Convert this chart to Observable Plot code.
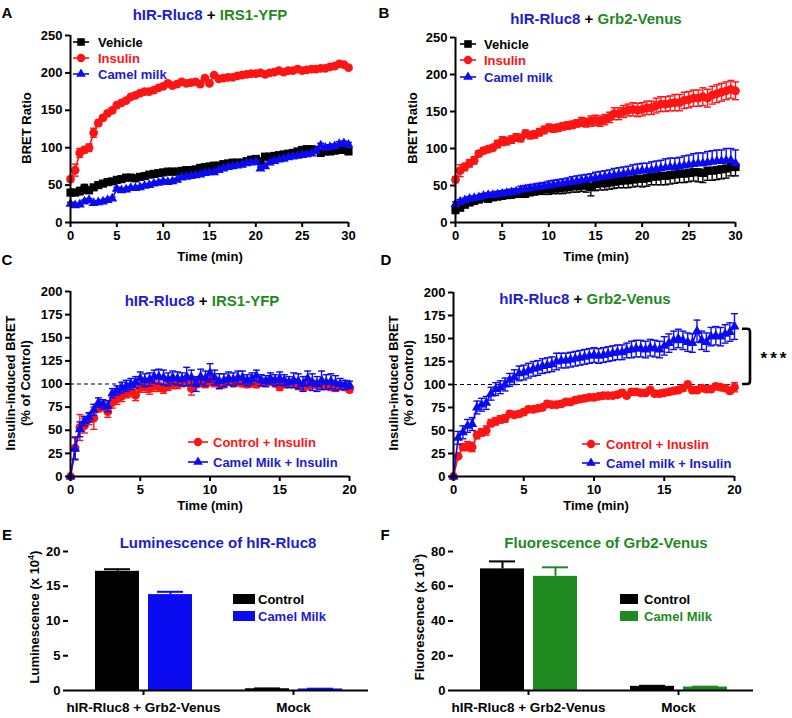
<!DOCTYPE html>
<html><head><meta charset="utf-8">
<script src="https://cdn.jsdelivr.net/npm/d3@7"></script>
<script src="https://cdn.jsdelivr.net/npm/@observablehq/plot@0.6"></script>
<style>
body{margin:0;background:#fff;}
#root{position:relative;width:792px;height:718px;overflow:hidden;background:#fff;font-family:'Liberation Sans',Arial,Helvetica,sans-serif;font-weight:bold;color:#000;}
.abs{position:absolute;white-space:nowrap;line-height:1;}
.panel{position:absolute;}
</style></head><body><div id="root"></div>
<script>
// ---------------- DATA ----------------
const timeAB = [0,0.5,1,1.5,2,2.5,3,3.5,4,4.5,5,5.5,6,6.5,7,7.5,8,8.5,9,9.5,10,10.5,11,11.5,12,12.5,13,13.5,14,14.5,15,15.5,16,16.5,17,17.5,18,18.5,19,19.5,20,20.5,21,21.5,22,22.5,23,23.5,24,24.5,25,25.5,26,26.5,27,27.5,28,28.5,29,29.5,30];
const timeCD = [0,0.33,0.67,1,1.33,1.67,2,2.33,2.67,3,3.33,3.67,4,4.33,4.67,5,5.33,5.67,6,6.33,6.67,7,7.33,7.67,8,8.33,8.67,9,9.33,9.67,10,10.33,10.67,11,11.33,11.67,12,12.33,12.67,13,13.33,13.67,14,14.33,14.67,15,15.33,15.67,16,16.33,16.67,17,17.33,17.67,18,18.33,18.67,19,19.33,19.67,20];

// Panel A: hIR-Rluc8 + IRS1-YFP (BRET ratio)
const aInsulin = [58,70,93,97,100,120,133,140,146,150, 157,160,163,168,170,173,175,175,177,180, 182,186,183,185,188,186,187,188,185,193, 186,197,192,193,194,194,196,197,198,199, 199,200,198,200,201,203,201,203,203,205, 203,204,205,205,206,206,208,209,212,211, 207];
const aInsulinErr = [3,8,6,4,5,6,4,3,3,3, 2,2,2,2,2,2,2,2,2,2, 2,2,2,2,2,2,2,2,2,2, 2,2,2,2,2,2,2,2,2,2, 2,2,2,2,2,2,2,2,2,2, 2,2,2,2,2,2,2,3,3,2, 2];
const aVehicle = [40,40,42,45,43,47,50,52,54,55, 57,58,60,60,59,61,62,64,65,66, 67,68,68,68,69,70,70,71,73,74, 75,76,76,78,79,80,80,80,82,84, 85,82,88,88,89,90,91,92,93,95, 97,98,98,97,93,95,95,96,97,97, 95];
const aVehicleErr = [3,3,5,6,3,2,2,2,2,2, 2,2,2,2,2,2,2,2,2,2, 2,2,2,2,2,2,2,2,2,2, 2,2,2,2,2,2,2,2,2,2, 2,2,2,2,2,2,2,2,2,2, 2,2,2,2,3,3,3,3,3,3, 3];
const aCamel = [25,23,24,28,30,26,27,28,30,32, 45,43,44,46,46,47,49,50,52,53, 55,54,55,57,60,61,62,63,64,66, 67,67,70,72,74,75,76,77,79,80, 81,72,75,80,82,84,85,87,88,89, 90,91,92,95,103,100,101,102,105,106, 104];
const aCamelErr = [2,2,2,2,2,2,2,2,2,2, 2,2,2,2,2,2,2,2,2,2, 2,2,2,2,2,2,2,2,2,2, 2,2,2,2,2,2,2,2,2,2, 2,2,2,2,2,2,2,2,2,2, 2,2,2,2,3,3,3,3,3,3, 3];

// Panel B: hIR-Rluc8 + Grb2-Venus (BRET ratio)
const bInsulin = [58,70,75,80,84,93,97,99,101,106, 110,110,112,115,114,120,118,119,122,125, 128,127,128,130,131,132,134,136,135,137, 138,137,139,142,147,147,150,152,153,152, 153,155,155,158,160,160,161,162,162,165, 166,168,168,170,168,172,174,176,178,180, 178];
const bInsulinErr = [4,8,5,5,5,4,4,4,4,5, 6,5,5,5,5,5,5,5,5,5, 5,5,5,5,5,5,5,6,6,7, 7,7,7,7,8,8,8,8,9,9, 9,9,9,10,10,10,10,11,11,11, 11,11,11,12,12,12,12,12,12,12, 12];
const bVehicle = [17,20,24,27,29,31,33,32,34,35, 36,37,38,39,40,40,42,43,44,45, 45,46,46,47,48,49,49,50,50,48, 52,53,53,54,55,56,57,57,58,59, 59,60,62,62,63,63,64,65,66,66, 67,68,68,67,70,70,71,72,73,75, 75];
const bVehicleErr = [5,4,3,3,3,3,3,4,4,4, 4,4,5,5,6,6,6,6,6,7, 7,7,7,8,8,8,8,8,9,12, 9,9,9,9,9,9,10,10,10,10, 11,11,11,11,12,12,12,12,12,12, 12,12,13,13,13,13,13,13,13,12, 12];
const bCamel = [25,28,30,32,33,34,36,37,37,38, 39,40,41,42,44,45,46,47,48,49, 50,51,52,53,54,55,56,57,58,59, 60,61,62,63,64,65,66,67,68,69, 70,70,71,72,73,74,75,75,76,77, 78,79,80,80,81,82,83,83,84,84, 80];
const bCamelErr = [3,3,3,3,3,3,3,3,4,4, 4,4,4,4,5,5,5,5,5,5, 6,6,6,6,6,7,7,7,7,7, 8,8,8,8,9,9,9,9,10,10, 10,10,11,11,11,12,12,12,12,13, 13,14,14,14,15,15,15,15,16,16, 18];

// Panel C: hIR-Rluc8 + IRS1-YFP (% of control)
const cControl = [0,31,53, 55,62,63, 74,76,70, 80,84,87, 90,92,88, 96,97,95, 98,97,95, 98,100,100, 102,103,95, 101,102,101, 103,102,100, 100,103,101, 102,101,100, 101,100,102, 102,103,101, 97,100,101, 101,98,97, 98,100,99, 98,99,97, 96,98,97, 94];
const cControlErr = [0,12,14, 8,6,12, 4,5,6, 6,6,6, 5,6,6, 5,6,6, 6,5,5, 5,5,5, 5,5,7, 5,5,5, 5,5,5, 4,4,4, 4,4,4, 4,4,4, 4,4,4, 4,4,4, 4,4,4, 4,4,4, 4,4,4, 4,4,4, 3];
const cCamel = [0,30,51, 60,64,72, 80,78,76, 90,93,96, 98,100,102, 106,104,105, 108,108,107, 105,107,106, 105,108,107, 100,108,106, 112,107,103, 104,106,105, 107,107,104, 106,109,104, 103,106,104, 106,104,102, 104,103,100, 106,102,100, 104,102,103, 101,100,99, 99];
const cCamelErr = [0,12,8, 5,5,6, 5,5,6, 5,5,6, 6,6,6, 7,7,7, 7,8,8, 7,7,7, 7,10,8, 8,8,8, 10,8,8, 7,7,7, 7,7,6, 6,6,6, 6,6,6, 7,6,6, 8,8,8, 8,9,8, 10,8,8, 8,6,5, 4];

// Panel D: hIR-Rluc8 + Grb2-Venus (% of control)
const dControl = [0,22,32, 33,32,45, 48,50,58, 60,62,63, 68,67,68, 70,73,73, 74,75,79, 78,78,79, 81,81,83, 84,85,86, 86,87,88, 88,88,89, 91,88,92, 92,91,91, 94,90,90, 91,92,93, 94,96,100, 94,94,96, 95,95,98, 97,96,93, 97];
const dControlErr = [0,2,3, 5,5,4, 4,5,4, 4,4,4, 3,3,3, 3,3,3, 3,3,3, 3,3,3, 3,3,3, 3,3,3, 3,3,3, 3,3,3, 3,3,3, 3,3,3, 3,3,3, 3,3,3, 3,3,3, 3,3,3, 3,3,3, 3,3,3, 5];
const dCamel = [0,42,48, 55,57,75, 78,80,90, 95,97,100, 105,108,112, 113,115,117, 118,120,121, 122,125,126, 126,127,128, 129,130,131, 132,131,132, 133,134,135, 135,137,138, 139,139,138, 140,139,138, 142,145,148, 150,148,146, 145,158,148, 146,152,153, 152,155,157, 163];
const dCamelErr = [0,7,7, 7,7,7, 7,7,7, 7,7,7, 7,8,8, 8,8,8, 8,8,8, 8,9,8, 8,8,8, 8,8,8, 8,8,8, 8,8,8, 8,8,9, 9,9,9, 9,9,9, 10,10,10, 10,10,10, 10,12,10, 10,10,10, 10,10,10, 14];
const sigSpan = [100, 160];   // bracket between the two curves in D (y values)

// Panels E & F: bar charts
const barGroups = ["hIR-Rluc8 + Grb2-Venus", "Mock"];
const barTreatments = ["Control", "Camel Milk"];
const lumControl = [17.15, 0.25], lumControlErr = [0.3, 0.05];
const lumCamel = [13.8, 0.22], lumCamelErr = [0.4, 0.04];
const fluControl = [70.0, 2.4], fluControlErr = [4.3, 0.3];
const fluCamel = [65.7, 2.0], fluCamelErr = [5.2, 0.2];

// ---------------- STYLE ----------------
const FONT = "'Liberation Sans', Arial, Helvetica, sans-serif";
const RED = "#ff1414", BLUE = "#0b0bf2", BLACK = "#000000", GREEN = "#1f8a1f";
const TBLUE = "#1c1cd0", TGREEN = "#1f8a1f";
const root = document.getElementById("root");
const capSymbol = {draw(ctx, size) { const w = Math.sqrt(size / Math.PI); ctx.moveTo(-w, 0); ctx.lineTo(w, 0); }};
const plotStyle = {fontFamily: FONT, fontWeight: "bold", fontSize: "13px", color: "#000", background: "transparent", overflow: "visible"};
const symR = {square: 4.6, circle: 4.4, triangle: 3.7};

function place(el, left, top) {
  const d = document.createElement("div"); d.className = "panel";
  d.style.left = left + "px"; d.style.top = top + "px"; d.appendChild(el); root.appendChild(d); return d;
}
function txt(html, x, y, o = {}) {
  const d = document.createElement("div"); d.className = "abs"; d.innerHTML = html;
  d.style.fontSize = (o.size || 13) + "px"; d.style.color = o.color || "#000";
  d.style.left = x + "px"; d.style.top = y + "px";
  if (o.lh) { d.style.lineHeight = o.lh; d.style.textAlign = "center"; }
  if (o.ls) d.style.letterSpacing = o.ls;
  const tx = o.anchor === "start" ? "0" : "-50%";
  d.style.transform = `translate(${tx},-50%)` + (o.rotate ? ` rotate(${o.rotate}deg)` : "");
  root.appendChild(d); return d;
}
function rowsOf(time, vals, errs, dir) {
  return time.map((t, i) => ({t, v: vals[i], e: errs[i],
    lo: dir === "up" ? vals[i] : vals[i] - errs[i],
    hi: dir === "down" ? vals[i] : vals[i] + errs[i]}));
}
function seriesMarks(s) {
  const rows = rowsOf(s.time, s.values, s.errors, s.dir);
  const we = rows.filter(d => d.e > 0);
  const m = [Plot.ruleX(we, {x: "t", y1: "lo", y2: "hi", stroke: s.color, strokeWidth: 1.4})];
  if (s.dir !== "down") m.push(Plot.dot(we, {x: "t", y: "hi", symbol: capSymbol, r: 3.5, stroke: s.color, strokeWidth: 1.4, fill: "none"}));
  if (s.dir !== "up") m.push(Plot.dot(we, {x: "t", y: "lo", symbol: capSymbol, r: 3.5, stroke: s.color, strokeWidth: 1.4, fill: "none"}));
  m.push(Plot.line(rows, {x: "t", y: "v", stroke: s.color, strokeWidth: 1.6}));
  m.push(Plot.dot(rows, {x: "t", y: "v", symbol: s.symbol, r: symR[s.symbol], fill: s.color, stroke: "none"}));
  return m;
}
function lineChart(c) {
  return Plot.plot({
    width: 396, height: 250,
    marginLeft: c.m[0], marginRight: c.m[1], marginTop: c.m[2], marginBottom: c.m[3],
    x: {domain: c.xDomain}, y: {domain: c.yDomain},
    style: plotStyle,
    marks: [
      c.ref != null ? Plot.ruleY([c.ref], {stroke: "#000", strokeWidth: 1.2, strokeDasharray: "4,3"}) : null,
      ...c.series.flatMap(seriesMarks),
      Plot.ruleX([c.xDomain[0]], {stroke: "#000", strokeWidth: 2}),
      Plot.ruleY([c.yDomain[0]], {stroke: "#000", strokeWidth: 2}),
      Plot.axisX({ticks: c.xTicks, tickSize: 5, tickPadding: 3, strokeWidth: 2, label: null, fontSize: 13}),
      Plot.axisY({ticks: c.yTicks, tickSize: 5, tickPadding: 3, strokeWidth: 2, label: null, fontSize: 13})
    ]
  });
}
function barChart(c) {
  const rows = [];
  barGroups.forEach((g, gi) => barTreatments.forEach((tr, ti) =>
    rows.push({group: g, treat: tr, v: c.values[ti][gi], e: c.errors[ti][gi]})));
  return Plot.plot({
    width: 396, height: 218,
    marginLeft: c.m[0], marginRight: c.m[1], marginTop: c.m[2], marginBottom: c.m[3],
    fx: {domain: barGroups, padding: 0},
    x: {domain: barTreatments, paddingInner: 0.17, paddingOuter: 0.5, axis: null},
    y: {domain: c.yDomain},
    color: {domain: barTreatments, range: c.colors},
    style: plotStyle,
    marks: [
      Plot.barY(rows, {fx: "group", x: "treat", y: "v", fill: "treat"}),
      Plot.ruleX(rows, {fx: "group", x: "treat", y1: "v", y2: d => d.v + d.e, stroke: "treat", strokeWidth: 2}),
      Plot.tickY(rows, {fx: "group", x: "treat", y: d => d.v + d.e, stroke: "treat", strokeWidth: 2, insetLeft: 9, insetRight: 9}),
      Plot.ruleY([0], {stroke: "#000", strokeWidth: 2}),
      Plot.axisY({ticks: c.yTicks, tickSize: 5, tickPadding: 3, strokeWidth: 2, label: null, line: true, fontSize: 13}),
      Plot.axisFx({anchor: "bottom", tickSize: 5, tickPadding: 7, strokeWidth: 2, label: null, fontSize: 13.5})
    ]
  });
}
function symSVG(sym, color, half) {
  const w = half * 2 + 2, h = 14, cx = w / 2, cy = 7;
  let s;
  if (sym === "square") s = `<rect x="${cx-3.8}" y="${cy-3.8}" width="7.6" height="7.6" fill="${color}"/>`;
  else if (sym === "circle") s = `<circle cx="${cx}" cy="${cy}" r="4.2" fill="${color}"/>`;
  else s = `<path d="M${cx},${cy-5.4}L${cx+4.8},${cy+2.8}L${cx-4.8},${cy+2.8}Z" fill="${color}"/>`;
  return `<svg width="${w}" height="${h}" style="display:block"><line x1="1" x2="${w-1}" y1="${cy}" y2="${cy}" stroke="${color}" stroke-width="1.6"/>${s}</svg>`;
}
function legendItem(cx, y, sym, color, half, textX, label, tcolor, size = 13) {
  txt(symSVG(sym, color, half), cx, y);
  txt(label, textX, y, {anchor: "start", color: tcolor, size});
}
function swatch(x, y, w, color, textX, label, tcolor) {
  txt(`<div style="width:${w}px;height:10px;background:${color}"></div>`, x + w / 2, y);
  txt(label, textX, y, {anchor: "start", color: tcolor});
}

// ---------------- PANELS ----------------
const plotA = lineChart({m: [70, 48, 35, 28], xDomain: [0, 30], yDomain: [0, 250],
  xTicks: [0, 5, 10, 15, 20, 25, 30], yTicks: [0, 50, 100, 150, 200, 250],
  series: [
    {time: timeAB, values: aVehicle, errors: aVehicleErr, color: BLACK, symbol: "square", dir: "both"},
    {time: timeAB, values: aInsulin, errors: aInsulinErr, color: RED, symbol: "circle", dir: "both"},
    {time: timeAB, values: aCamel, errors: aCamelErr, color: BLUE, symbol: "triangle", dir: "both"}]});
place(plotA, 0, 0);

const plotB = lineChart({m: [59, 57, 37, 28], xDomain: [0, 30], yDomain: [0, 250],
  xTicks: [0, 5, 10, 15, 20, 25, 30], yTicks: [0, 50, 100, 150, 200, 250],
  series: [
    {time: timeAB, values: bVehicle, errors: bVehicleErr, color: BLACK, symbol: "square", dir: "down"},
    {time: timeAB, values: bInsulin, errors: bInsulinErr, color: RED, symbol: "circle", dir: "both"},
    {time: timeAB, values: bCamel, errors: bCamelErr, color: BLUE, symbol: "triangle", dir: "up"}]});
place(plotB, 396, 0);

const plotC = lineChart({m: [70, 47, 41, 24], xDomain: [0, 20], yDomain: [0, 200], ref: 100,
  xTicks: [0, 5, 10, 15, 20], yTicks: [0, 25, 50, 75, 100, 125, 150, 175, 200],
  series: [
    {time: timeCD, values: cControl, errors: cControlErr, color: RED, symbol: "circle", dir: "both"},
    {time: timeCD, values: cCamel, errors: cCamelErr, color: BLUE, symbol: "triangle", dir: "both"}]});
place(plotC, 0, 250);

const plotD = lineChart({m: [57, 58, 42, 24], xDomain: [0, 20], yDomain: [0, 200], ref: 100,
  xTicks: [0, 5, 10, 15, 20], yTicks: [0, 25, 50, 75, 100, 125, 150, 175, 200],
  series: [
    {time: timeCD, values: dControl, errors: dControlErr, color: RED, symbol: "circle", dir: "both"},
    {time: timeCD, values: dCamel, errors: dCamelErr, color: BLUE, symbol: "triangle", dir: "both"}]});
place(plotD, 396, 250);

const plotE = barChart({m: [67, 28, 51, 28], yDomain: [0, 20], yTicks: [0, 5, 10, 15, 20],
  values: [lumControl, lumCamel], errors: [lumControlErr, lumCamelErr], colors: [BLACK, BLUE]});
place(plotE, 0, 500);

const plotF = barChart({m: [56, 39, 51, 28], yDomain: [0, 80], yTicks: [0, 20, 40, 60, 80],
  values: [fluControl, fluCamel], errors: [fluControlErr, fluCamelErr], colors: [BLACK, GREEN]});
place(plotF, 396, 500);

// significance bracket in D, placed through D's own scales
{
  const sx = plotD.scale("x"), sy = plotD.scale("y");
  const xr = sx.apply(20) + 16, x0 = sx.apply(20) + 8;
  const yT = sy.apply(sigSpan[1]), yB = sy.apply(sigSpan[0]);
  const ns = "http://www.w3.org/2000/svg";
  const svg = document.createElementNS(ns, "svg");
  svg.setAttribute("width", 396); svg.setAttribute("height", 250);
  svg.style.position = "absolute"; svg.style.left = "396px"; svg.style.top = "250px"; svg.style.overflow = "visible";
  const p = document.createElementNS(ns, "path");
  p.setAttribute("d", `M${x0},${yT}H${xr-3}Q${xr},${yT} ${xr},${yT+3}V${yB-3}Q${xr},${yB} ${xr-3},${yB}H${x0}`);
  p.setAttribute("fill", "none"); p.setAttribute("stroke", "#000"); p.setAttribute("stroke-width", 2.6);
  svg.appendChild(p); root.appendChild(svg);
  txt("***", 396 + xr + 25, 250 + (yT + yB) / 2 + 2, {size: 17, ls: "3px"});
}

// ---------------- TEXT ----------------
const L = (s, x, y) => txt(s, x, y, {size: 15});
L("A", 7, 12); L("B", 384, 12); L("C", 7, 259); L("D", 386, 259); L("E", 7, 534); L("F", 385, 534);

txt(`<span style="color:${TBLUE}">hIR-Rluc8</span> + <span style="color:${TGREEN}">IRS1-YFP</span>`, 210, 14, {size: 15});
txt(`<span style="color:${TBLUE}">hIR-Rluc8</span> + <span style="color:${TGREEN}">Grb2-Venus</span>`, 596, 18, {size: 15});
txt(`<span style="color:${TBLUE}">hIR-Rluc8</span> + <span style="color:${TGREEN}">IRS1-YFP</span>`, 202, 300, {size: 15});
txt(`<span style="color:${TBLUE}">hIR-Rluc8</span> + <span style="color:${TGREEN}">Grb2-Venus</span>`, 585, 298, {size: 15});
txt("Luminescence of hIR-Rluc8", 218, 542, {size: 15, color: TBLUE});
txt("Fluorescence of Grb2-Venus", 606, 542, {size: 15, color: TGREEN});

txt("Time (min)", 210, 256); txt("Time (min)", 596, 256);
txt("Time (min)", 210, 505); txt("Time (min)", 596, 505);

txt("BRET Ratio", 26, 128, {rotate: -90}); txt("BRET Ratio", 412, 128, {rotate: -90});
txt("Insulin-induced BRET<br>(% of Control)", 18, 383, {rotate: -90, lh: "15px"});
txt("Insulin-induced BRET<br>(% of Control)", 401, 383, {rotate: -90, lh: "15px"});
txt("Luminescence (x 10<sup style='font-size:9px'>4</sup>)", 34, 617, {rotate: -90});
txt("Fluorescence (x 10<sup style='font-size:9px'>3</sup>)", 419, 617, {rotate: -90});

// legends
legendItem(81, 42, "square", BLACK, 8, 98, "Vehicle", BLACK);
legendItem(81, 58, "circle", RED, 8, 98, "Insulin", RED);
legendItem(81, 74, "triangle", BLUE, 8, 98, "Camel milk", TBLUE);
legendItem(468, 44, "square", BLACK, 8, 484, "Vehicle", BLACK);
legendItem(468, 60, "circle", RED, 8, 484, "Insulin", RED);
legendItem(468, 76.5, "triangle", BLUE, 8, 484, "Camel milk", TBLUE);
legendItem(198, 442, "circle", RED, 10, 213, "Control + Insulin", RED);
legendItem(198, 462, "triangle", BLUE, 10, 213, "Camel Milk + Insulin", TBLUE);
legendItem(591, 444, "circle", RED, 9, 606, "Control + Inuslin", RED);
legendItem(591, 463, "triangle", BLUE, 9, 606, "Camel milk + Insulin", TBLUE);
swatch(233, 599, 22, BLACK, 258, "Control", BLACK);
swatch(233, 616, 22, BLUE, 258, "Camel Milk", TBLUE);
swatch(620, 599, 18, BLACK, 644, "Control", BLACK);
swatch(620, 616, 18, GREEN, 644, "Camel Milk", TGREEN);
</script></body></html>
